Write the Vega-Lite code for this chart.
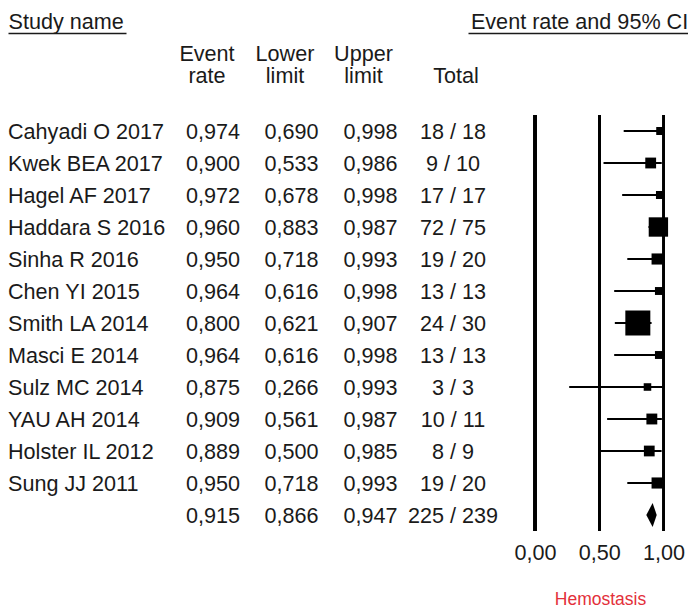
{
  "$schema": "https://vega.github.io/schema/vega-lite/v6.json",
  "background": "white",
  "padding": {"left": 8, "top": 11, "right": 0, "bottom": 0},
  "config": {
    "view": {"stroke": null},
    "font": "Liberation Sans",
    "locale": {"number": {"decimal": ",", "thousands": ".", "grouping": [3], "currency": ["", " €"]}},
    "title": {"fontSize": 21.6, "fontWeight": "normal", "color": "#1a1a1a", "font": "Liberation Sans", "frame": "group"},
    "text": {"fontSize": 21.6, "color": "#1a1a1a", "baseline": "middle", "dy": 1.5}
  },
  "data": {
    "values": [
      {"study": "Cahyadi O 2017", "event": 0.974, "lower": 0.690, "upper": 0.998, "total": "18 / 18", "weight": 3.32},
      {"study": "Kwek BEA 2017", "event": 0.900, "lower": 0.533, "upper": 0.986, "total": "9 / 10", "weight": 6.14},
      {"study": "Hagel AF 2017", "event": 0.972, "lower": 0.678, "upper": 0.998, "total": "17 / 17", "weight": 3.32},
      {"study": "Haddara S 2016", "event": 0.960, "lower": 0.883, "upper": 0.987, "total": "72 / 75", "weight": 19.66},
      {"study": "Sinha R 2016", "event": 0.950, "lower": 0.718, "upper": 0.993, "total": "19 / 20", "weight": 6.48},
      {"study": "Chen YI 2015", "event": 0.964, "lower": 0.616, "upper": 0.998, "total": "13 / 13", "weight": 3.29},
      {"study": "Smith LA 2014", "event": 0.800, "lower": 0.621, "upper": 0.907, "total": "24 / 30", "weight": 32.76},
      {"study": "Masci E 2014", "event": 0.964, "lower": 0.616, "upper": 0.998, "total": "13 / 13", "weight": 3.29},
      {"study": "Sulz MC 2014", "event": 0.875, "lower": 0.266, "upper": 0.993, "total": "3 / 3", "weight": 2.99},
      {"study": "YAU AH 2014", "event": 0.909, "lower": 0.561, "upper": 0.987, "total": "10 / 11", "weight": 6.20},
      {"study": "Holster IL 2012", "event": 0.889, "lower": 0.500, "upper": 0.985, "total": "8 / 9", "weight": 6.07},
      {"study": "Sung JJ 2011", "event": 0.950, "lower": 0.718, "upper": 0.993, "total": "19 / 20", "weight": 6.48},
      {"study": "", "event": 0.915, "lower": 0.866, "upper": 0.947, "total": "225 / 239", "weight": null}
    ]
  },
  "spacing": 0,
  "bounds": "flush",
  "hconcat": [
    {
      "width": 118,
      "height": 416,
      "mark": {"type": "text", "align": "left"},
      "encoding": {
        "y": {"field": "study", "type": "nominal", "sort": null, "axis": null, "scale": {"type": "point", "padding": 0.5}},
        "x": {
          "datum": 0, "type": "quantitative",
          "scale": {"domain": [0, 1]},
          "axis": {
            "orient": "top", "offset": 82, "ticks": false, "labels": false, "grid": false,
            "domain": true, "domainColor": "#1a1a1a", "domainWidth": 1.3,
            "title": "Study name", "titleAnchor": "start", "titleFontSize": 21.6,
            "titleFontWeight": "normal", "titleColor": "#1a1a1a", "titlePadding": 0
          }
        },
        "text": {"field": "study"}
      }
    },
    {
      "width": 114,
      "height": 416,
      "title": {"text": ["Event", "rate"], "anchor": "end", "align": "center", "dx": -33, "baseline": "bottom", "lineHeight": 22, "offset": 5.5},
      "mark": {"type": "text", "align": "right"},
      "encoding": {
        "y": {"field": "study", "type": "nominal", "sort": null, "axis": null, "scale": {"type": "point", "padding": 0.5}},
        "x": {"value": "width"},
        "text": {"field": "event", "format": ".3f"}
      }
    },
    {
      "width": 78.5,
      "height": 416,
      "title": {"text": ["Lower", "limit"], "anchor": "end", "align": "center", "dx": -33.5, "baseline": "bottom", "lineHeight": 22, "offset": 5.5},
      "mark": {"type": "text", "align": "right"},
      "encoding": {
        "y": {"field": "study", "type": "nominal", "sort": null, "axis": null, "scale": {"type": "point", "padding": 0.5}},
        "x": {"value": "width"},
        "text": {"field": "lower", "format": ".3f"}
      }
    },
    {
      "width": 78.5,
      "height": 416,
      "title": {"text": ["Upper", "limit"], "anchor": "end", "align": "center", "dx": -34, "baseline": "bottom", "lineHeight": 22, "offset": 5.5},
      "mark": {"type": "text", "align": "right"},
      "encoding": {
        "y": {"field": "study", "type": "nominal", "sort": null, "axis": null, "scale": {"type": "point", "padding": 0.5}},
        "x": {"value": "width"},
        "text": {"field": "upper", "format": ".3f"}
      }
    },
    {
      "width": 70,
      "height": 416,
      "title": {"text": ["Total"], "anchor": "end", "align": "center", "dx": -12, "baseline": "bottom", "lineHeight": 22, "offset": 5.5},
      "mark": {"type": "text", "align": "center", "dx": -15},
      "encoding": {
        "y": {"field": "study", "type": "nominal", "sort": null, "axis": null, "scale": {"type": "point", "padding": 0.5}},
        "x": {"value": "width"},
        "text": {"field": "total"}
      }
    },
    {
      "width": 219.7,
      "height": 416,
      "encoding": {
        "y": {"field": "study", "type": "nominal", "sort": null, "axis": null, "scale": {"type": "point", "padding": 0.5}}
      },
      "layer": [
        {
          "mark": {"type": "rule", "color": "#000", "strokeWidth": 2.5},
          "encoding": {"x": {"datum": 0, "type": "quantitative", "axis": null}, "y": null}
        },
        {
          "mark": {"type": "rule", "color": "#000", "strokeWidth": 2.5},
          "encoding": {"x": {"datum": 0.5, "type": "quantitative", "axis": null}, "y": null}
        },
        {
          "mark": {"type": "rule", "color": "#000", "strokeWidth": 1.5},
          "encoding": {
            "x": {
              "datum": 1, "type": "quantitative",
              "axis": {
                "orient": "top", "offset": 82, "ticks": false, "labels": false, "grid": false,
                "domain": true, "domainColor": "#1a1a1a", "domainWidth": 1.3,
                "title": "Event rate and 95% CI", "titleAnchor": "end", "titleFontSize": 21.6,
                "titleFontWeight": "normal", "titleColor": "#1a1a1a", "titlePadding": 0
              }
            },
            "y": null
          }
        },
        {
          "transform": [{"filter": {"field": "weight", "valid": true}}],
          "mark": {"type": "rule", "color": "#000", "strokeWidth": 2},
          "encoding": {
            "x": {
              "field": "lower", "type": "quantitative",
              "scale": {"domain": [-0.5214, 1.188], "nice": false, "zero": false},
              "axis": {
                "orient": "bottom", "values": [0, 0.5, 1], "format": ".2f",
                "ticks": false, "domain": false, "grid": false,
                "labelFontSize": 21.6, "labelColor": "#1a1a1a", "labelPadding": 11,
                "title": "Hemostasis", "titleColor": "#e3303a", "titleFontSize": 17.5,
                "titleFontWeight": "normal", "titleX": 132, "titlePadding": 27
              }
            },
            "x2": {"field": "upper"}
          }
        },
        {
          "transform": [{"filter": {"field": "weight", "valid": true}}],
          "mark": {"type": "point", "shape": "square", "filled": true, "color": "#000", "opacity": 1},
          "encoding": {
            "x": {"field": "event", "type": "quantitative", "axis": null},
            "size": {"field": "weight", "type": "quantitative", "legend": null,
                     "scale": {"type": "linear", "zero": true, "domain": [0, 32.76], "range": [0, 625]}}
          }
        },
        {
          "transform": [{"filter": "!isValid(datum.weight)"}],
          "mark": {"type": "point", "shape": "M-0.525,0L0,-1L0.342,0L0,1Z", "filled": true, "color": "#000", "opacity": 1, "size": 576},
          "encoding": {
            "x": {"field": "event", "type": "quantitative", "axis": null}
          }
        }
      ]
    }
  ]
}
